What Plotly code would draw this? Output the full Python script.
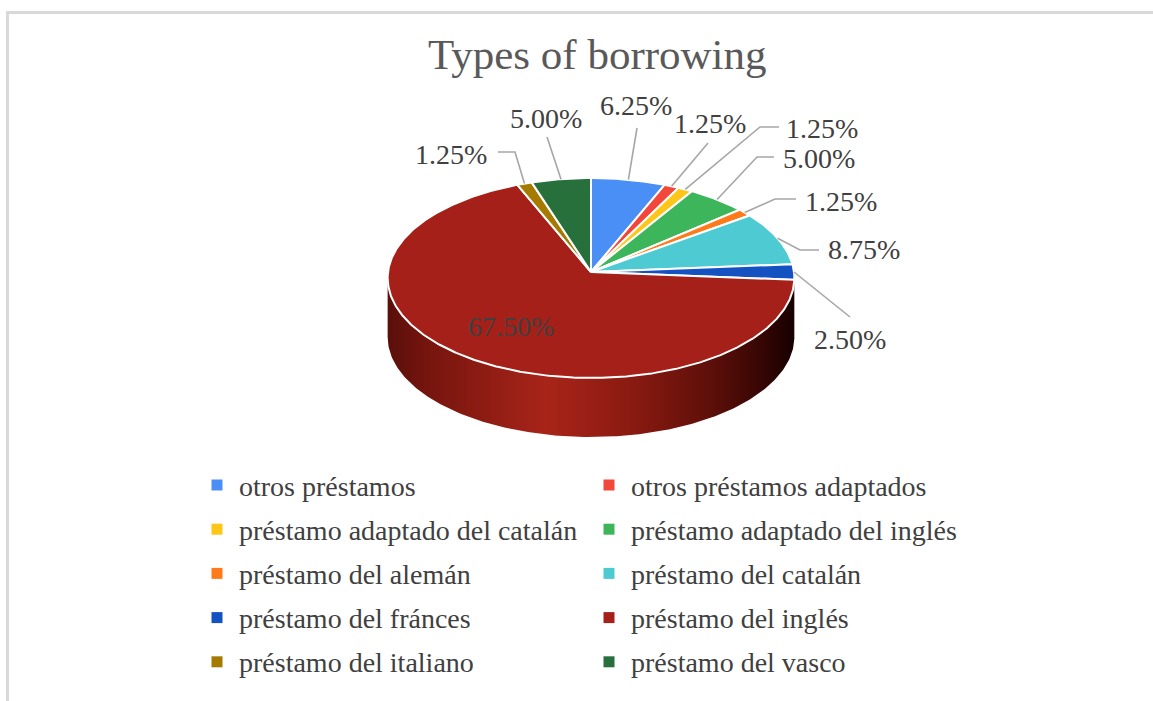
import numpy as np
import plotly.graph_objects as go

# ---------------- data ----------------
categories = [
    "otros préstamos",
    "otros préstamos adaptados",
    "préstamo adaptado del catalán",
    "préstamo adaptado del inglés",
    "préstamo del alemán",
    "préstamo del catalán",
    "préstamo del fránces",
    "préstamo del inglés",
    "préstamo del italiano",
    "préstamo del vasco",
]
percentages = [6.25, 1.25, 1.25, 5.00, 1.25, 8.75, 2.50, 67.50, 1.25, 5.00]
title_text = "Types of borrowing"

# ---------------- style / layout ----------------
colors = ["#4A8FF6", "#F2473A", "#FFC61A", "#3DB55B", "#FF7A1A",
          "#4ECAD3", "#1452C2", "#A52019", "#A47B00", "#276F3B"]
side_scales = {
    7: [[0.0, "#5a0f0a"], [0.10, "#76150e"], [0.39, "#a82419"], [0.60, "#8a1a11"],
        [0.80, "#5c0f09"], [0.92, "#360604"], [1.0, "#160100"]],
    6: [[0.0, "#0c2f7a"], [1.0, "#061a45"]],
}
W, H = 1153, 701
CX, CY = 591, 272          # apex of the pie on screen
RX, RY = 203, 99.6         # projected radii
K = 0.06                   # perspective factor
DEPTH = 59                 # pie thickness
FONT = "Liberation Serif"
LABEL_SIZE = 28
LEGEND_SIZE = 28
TITLE_SIZE = 43
TEXT_COLOR = "#404040"
LEADER_COLOR = "#a6a6a6"

# label placement (text centre, optional elbow, leader end) -- layout only
label_layout = {
    0: dict(text=(636, 105), elbow=None, end=(637, 128)),
    1: dict(text=(710, 123), elbow=None, end=(708, 143)),
    2: dict(text=(822, 128), elbow=(760, 127), end=(779, 127)),
    3: dict(text=(819, 158), elbow=(757, 157), end=(774, 157)),
    4: dict(text=(841, 201), elbow=(775, 199), end=(796, 199)),
    5: dict(text=(864, 249), elbow=(800, 250), end=(819, 250)),
    6: dict(text=(850, 339), elbow=None, end=(850, 317)),
    8: dict(text=(451, 154), elbow=(515, 152), end=(498, 152)),
    9: dict(text=(546, 118), elbow=None, end=(547, 137)),
}
INSIDE_LABEL_R = 0.65


def proj(phi_deg, r=1.0, dz=0.0):
    phi = np.radians(phi_deg)
    u, v = r * np.cos(phi), r * np.sin(phi)
    d = 1 + K * v
    return CX + RX * u / d, CY - RY * v / d + dz


# slice angles (start at 12 o'clock, clockwise)
cum = np.concatenate([[0], np.cumsum(percentages)])
total = cum[-1]
starts = 90 - 360 * cum[:-1] / total
ends = 90 - 360 * cum[1:] / total

fig = go.Figure()

# ---- side (front wall) ----
phi_r = -np.degrees(np.arcsin(K))
phi_l = -180 - phi_r
for i in range(len(categories)):
    hi = min(starts[i], phi_r)
    lo = max(ends[i], phi_l)
    if hi <= lo:
        continue
    ph = np.linspace(hi, lo, 200)
    xt, yt = proj(ph)
    xb, yb = proj(ph[::-1], dz=DEPTH)
    xs = np.concatenate([xt, xb, xt[:1]])
    ys = np.concatenate([yt, yb, yt[:1]])
    kw = {}
    if i in side_scales:
        kw["fillgradient"] = dict(type="horizontal", colorscale=side_scales[i])
    else:
        kw["fillcolor"] = colors[i]
    fig.add_trace(go.Scatter(x=xs, y=ys, mode="lines", fill="toself",
                             line=dict(width=0, color=colors[i]),
                             hoverinfo="skip", showlegend=False, **kw))

# ---- top face slices ----
for i, name in enumerate(categories):
    n = max(8, int(abs(starts[i] - ends[i]) * 2))
    ph = np.linspace(starts[i], ends[i], n)
    xa, ya = proj(ph)
    xs = np.concatenate([[CX], xa, [CX]])
    ys = np.concatenate([[CY], ya, [CY]])
    fig.add_trace(go.Scatter(x=xs, y=ys, mode="lines", fill="toself",
                             fillcolor=colors[i],
                             line=dict(color="white", width=2),
                             name=name, hoveron="fills",
                             text=f"{name}: {percentages[i]:.2f}%",
                             hoverinfo="text", showlegend=False))

annotations = []

# ---- data labels with leader lines ----
for i, p in enumerate(percentages):
    mid = (starts[i] + ends[i]) / 2
    txt = f"{p:.2f}%"
    if i in label_layout:
        lay = label_layout[i]
        ax, ay = proj(mid)
        pts = [(ax, ay)]
        if lay["elbow"] is not None:
            pts.append(lay["elbow"])
        pts.append(lay["end"])
        fig.add_trace(go.Scatter(x=[q[0] for q in pts], y=[q[1] for q in pts],
                                 mode="lines", line=dict(color=LEADER_COLOR, width=1.6),
                                 hoverinfo="skip", showlegend=False))
        tx, ty = lay["text"]
    else:
        tx, ty = proj(mid, r=INSIDE_LABEL_R)
    annotations.append(dict(x=tx, y=ty, xref="x", yref="y", text=txt,
                            showarrow=False, xanchor="center", yanchor="middle",
                            font=dict(family=FONT, size=LABEL_SIZE, color=TEXT_COLOR)))

# ---- legend (two columns) ----
col_sq_x = [217, 609]
col_tx_x = [237, 629]
row0_y, row_gap = 485, 44.2
lx, ly = [], []
for i, name in enumerate(categories):
    c, r = i % 2, i // 2
    y = row0_y + r * row_gap
    lx.append(col_sq_x[c])
    ly.append(y)
    annotations.append(dict(x=col_tx_x[c], y=y + 1, xref="x", yref="y", text=name,
                            showarrow=False, xanchor="left", yanchor="middle",
                            font=dict(family=FONT, size=LEGEND_SIZE, color=TEXT_COLOR)))
fig.add_trace(go.Scatter(x=lx, y=ly, mode="markers",
                         marker=dict(symbol="square", size=11, color=colors,
                                     line=dict(width=0)),
                         hoverinfo="skip", showlegend=False))

# ---- title ----
annotations.append(dict(x=597, y=54, xref="x", yref="y", text=title_text,
                        showarrow=False, xanchor="center", yanchor="middle",
                        font=dict(family=FONT, size=TITLE_SIZE, color="#595959")))

shapes = [
    dict(type="line", xref="x", yref="y", x0=7.5, y0=H, x1=7.5, y1=12.5,
         line=dict(color="#d9d9d9", width=3)),
    dict(type="line", xref="x", yref="y", x0=6, y0=12.5, x1=W, y1=12.5,
         line=dict(color="#d9d9d9", width=3)),
]

fig.update_layout(
    width=W, height=H,
    margin=dict(l=0, r=0, t=0, b=0),
    paper_bgcolor="white", plot_bgcolor="white",
    xaxis=dict(range=[0, W], visible=False, fixedrange=True),
    yaxis=dict(range=[H, 0], visible=False, fixedrange=True),
    showlegend=False,
    annotations=annotations,
    shapes=shapes,
)

fig.write_html("out.html")
